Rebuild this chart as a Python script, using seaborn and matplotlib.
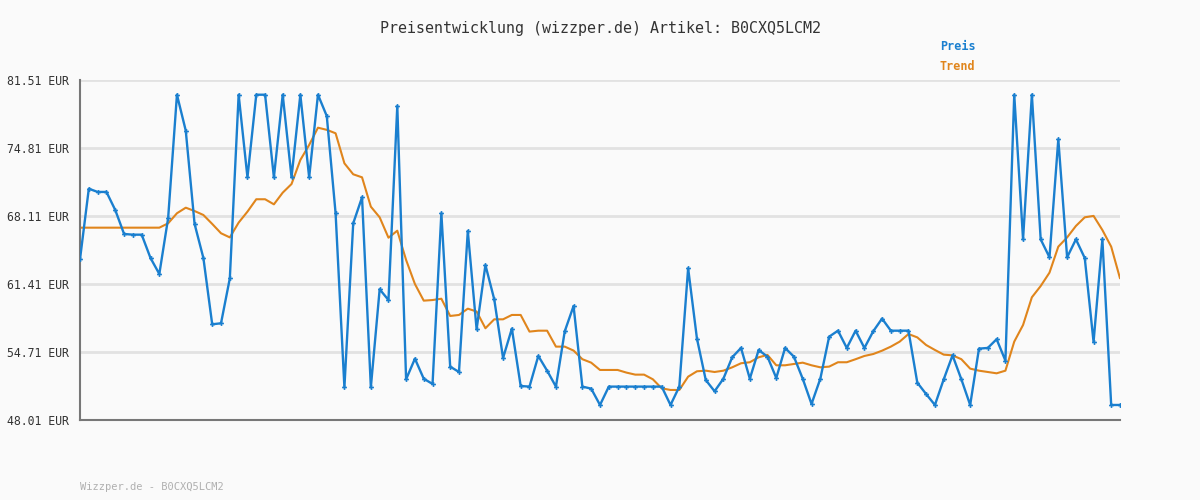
import matplotlib
matplotlib.use("Agg")
import matplotlib.pyplot as plt
import numpy as np
import pandas as pd
import seaborn as sns

# Preisdaten
preis = [
    63.85, 70.80, 70.48, 70.48, 68.70, 66.34, 66.27, 66.27, 63.97, 62.40,
    67.90, 80.06, 76.52, 67.33, 63.97, 57.44, 57.54, 61.97, 80.06, 71.92,
    80.06, 80.06, 71.92, 80.06, 71.92, 80.06, 71.92, 80.06, 77.96, 68.38,
    51.23, 67.39, 69.95, 51.23, 60.89, 59.83, 78.95, 52.02, 54.05, 52.08,
    51.56, 68.38, 53.27, 52.74, 66.63, 56.95, 63.28, 59.90, 54.12, 57.01,
    51.36, 51.30, 54.32, 52.87, 51.30, 56.75, 59.24, 51.30, 51.10, 49.49,
    51.30, 51.30, 51.30, 51.30, 51.30, 51.30, 51.30, 49.49, 51.30, 62.96,
    56.03, 51.95, 50.84, 52.08, 54.19, 55.11, 52.08, 54.91, 54.25, 52.15,
    55.11, 54.25, 52.08, 49.59, 52.08, 56.22, 56.81, 55.11, 56.81, 55.11,
    56.75, 58.00, 56.81, 56.81, 56.81, 51.69, 50.57, 49.49, 52.02, 54.38,
    52.02, 49.49, 55.04, 55.11, 55.97, 53.86, 80.06, 65.81, 80.06, 65.81,
    64.04, 75.67, 64.04, 65.81, 63.97, 55.70, 65.81, 49.49, 49.49,
]
trend = [
    66.96, 66.96, 66.96, 66.96, 66.96, 66.96, 66.96, 66.96, 66.96, 66.96,
    67.39, 68.38, 68.93, 68.60, 68.21, 67.33, 66.41, 66.00, 67.46, 68.54,
    69.76, 69.76, 69.26, 70.41, 71.26, 73.63, 75.11, 76.81, 76.60, 76.26,
    73.30, 72.22, 71.92, 69.03, 67.98, 65.97, 66.66, 63.78, 61.41, 59.77,
    59.83, 59.96, 58.26, 58.36, 58.98, 58.70, 57.05, 57.93, 57.93, 58.36,
    58.36, 56.72, 56.81, 56.81, 55.24, 55.24, 54.85, 54.00, 53.66, 52.94,
    52.94, 52.94, 52.68, 52.48, 52.48, 52.02, 51.13, 50.97, 50.97, 52.28,
    52.81, 52.87, 52.74, 52.87, 53.20, 53.60, 53.70, 54.19, 54.42, 53.40,
    53.40, 53.53, 53.66, 53.40, 53.20, 53.27, 53.70, 53.70, 54.00, 54.32,
    54.51, 54.84, 55.24, 55.73, 56.48, 56.15, 55.40, 54.91, 54.45, 54.38,
    54.00, 53.07, 52.87, 52.74, 52.61, 52.87, 55.73, 57.37, 60.10, 61.21,
    62.53, 65.09, 66.00, 67.13, 67.98, 68.12, 66.73, 65.09, 61.97,
]
y_ticks = [48.01, 54.71, 61.41, 68.11, 74.81, 81.51]

BLUE = '#1a7fcf'
ORANGE = '#e0851c'
BG = '#fafafa'

df = pd.DataFrame({'idx': np.arange(len(preis)), 'Preis': preis, 'Trend': trend})

sns.set_theme(style="white")
plt.rcParams['font.family'] = ['DejaVu Sans Mono', 'DejaVu Sans']

fig = plt.figure(figsize=(12, 5), dpi=100, facecolor=BG)
ax = fig.add_axes([80 / 1200, 80 / 500, 1040 / 1200, 340 / 500], facecolor=BG)

sns.lineplot(data=df, x='idx', y='Preis', ax=ax, color=BLUE, linewidth=1.7,
             marker='P', markersize=3.5, markeredgewidth=0, zorder=3)
sns.lineplot(data=df, x='idx', y='Trend', ax=ax, color=ORANGE, linewidth=1.5, zorder=2)

ax.set_xlim(0, len(preis) - 1)
ax.set_ylim(y_ticks[0], y_ticks[-1])
ax.set_yticks(y_ticks)
ax.set_yticklabels([f"{v:.2f} EUR" for v in y_ticks], fontsize=8.3, color='#333333')
ax.set_xticks([])
ax.set_xlabel('')
ax.set_ylabel('')
ax.tick_params(axis='y', length=6, width=1, color='#777777', pad=2)
for v in y_ticks:
    ax.axhline(v, color='#e2e2e2', linewidth=2, zorder=0)
for s in ['top', 'right']:
    ax.spines[s].set_visible(False)
for s in ['left', 'bottom']:
    ax.spines[s].set_color('#777777')
    ax.spines[s].set_linewidth(1.5)

fig.text(0.5, 1 - 28 / 500, 'Preisentwicklung (wizzper.de) Artikel: B0CXQ5LCM2',
         ha='center', va='center', fontsize=10.8, color='#333333')
fig.text(940 / 1200, 1 - 47 / 500, 'Preis', ha='left', va='center',
         fontsize=8.5, fontweight='bold', color=BLUE)
fig.text(940 / 1200, 1 - 67 / 500, 'Trend', ha='left', va='center',
         fontsize=8.5, fontweight='bold', color=ORANGE)
fig.text(80 / 1200, 1 - 487 / 500, 'Wizzper.de - B0CXQ5LCM2', ha='left', va='center',
         fontsize=7.5, color='#b0b0b0')

fig.savefig('out.png', dpi=100, facecolor=BG)
